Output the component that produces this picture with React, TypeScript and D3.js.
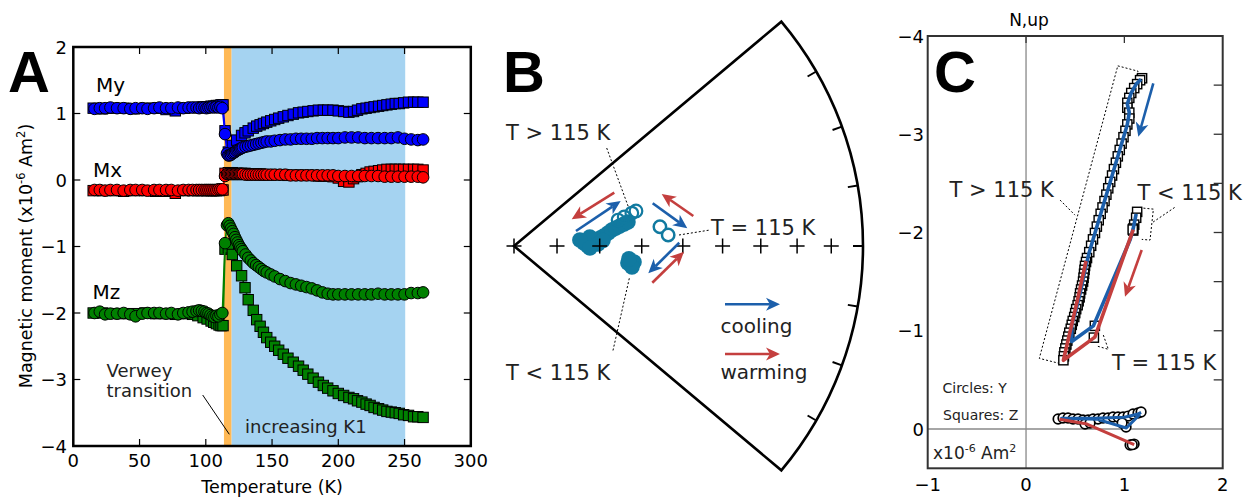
import React from 'react';
import * as d3 from 'd3';

const FONT = '"DejaVu Sans", Verdana, sans-serif';
const BLUE = '#0000ff';
const RED = '#ff0000';
const GREEN = '#008000';
const ARROW_BLUE = '#1c5fab';
const ARROW_RED = '#c43f3e';
const TEAL = '#117aa0';

// ---------------- Panel A data ----------------
const A_X_TICKS = [0, 50, 100, 150, 200, 250, 300];
const A_Y_TICKS = [-4, -3, -2, -1, 0, 1, 2];

const T_CIRC = [16, 20, 24, 28, 33, 38, 43, 47, 52, 56, 61, 65, 70, 74, 79, 83, 87, 90, 93, 95, 97, 99, 100.5, 102, 103.5, 105, 106.5, 108, 109.5, 111, 112.5,
  114.5, 116, 117, 118, 119, 120, 121, 122, 123, 124, 125, 126, 127, 128, 130, 132, 134, 136, 138, 140, 142, 144, 146, 149, 152, 156, 160, 164, 168, 172, 176, 180, 184, 188, 192, 196, 200, 205, 210, 215, 220, 225, 230, 235, 240, 245, 250, 255, 260, 264];
const MY_CIRC = [1.07, 1.08, 1.08, 1.09, 1.08, 1.08, 1.07, 1.08, 1.08, 1.07, 1.08, 1.09, 1.08, 1.08, 1.09, 1.08, 1.09, 1.09, 1.09, 1.08, 1.09, 1.09, 1.08, 1.09, 1.09, 1.10, 1.09, 1.10, 1.09, 1.10, 1.08,
  0.69, 0.40, 0.37, 0.37, 0.38, 0.40, 0.41, 0.42, 0.44, 0.45, 0.46, 0.47, 0.48, 0.49, 0.50, 0.51, 0.52, 0.53, 0.54, 0.55, 0.56, 0.57, 0.58, 0.58, 0.59, 0.60, 0.61, 0.61, 0.62, 0.62, 0.62, 0.62, 0.63, 0.63, 0.63, 0.63, 0.63, 0.64, 0.64, 0.64, 0.63, 0.63, 0.63, 0.63, 0.63, 0.64, 0.62, 0.61, 0.60, 0.61];
const MX_CIRC = [-0.15, -0.15, -0.16, -0.15, -0.15, -0.16, -0.15, -0.15, -0.15, -0.16, -0.15, -0.15, -0.15, -0.15, -0.16, -0.15, -0.15, -0.15, -0.15, -0.15, -0.15, -0.15, -0.15, -0.15, -0.15, -0.15, -0.15, -0.15, -0.14, -0.14, -0.14,
  0.06, 0.09, 0.09, 0.09, 0.09, 0.09, 0.09, 0.09, 0.09, 0.09, 0.09, 0.09, 0.09, 0.09, 0.08, 0.08, 0.08, 0.08, 0.08, 0.08, 0.08, 0.08, 0.08, 0.08, 0.08, 0.08, 0.08, 0.07, 0.07, 0.07, 0.07, 0.07, 0.07, 0.07, 0.07, 0.07, 0.06, 0.06, 0.06, 0.06, 0.06, 0.06, 0.06, 0.05, 0.05, 0.05, 0.05, 0.05, 0.05, 0.04];
const MZ_CIRC = [-2.00, -1.98, -2.02, -2.01, -2.01, -2.00, -2.02, -2.05, -2.01, -2.00, -2.00, -2.00, -2.01, -2.00, -2.02, -2.00, -1.99, -1.98, -1.97, -1.96, -1.97, -1.98, -2.00, -2.01, -2.03, -2.05, -2.06, -2.04, -2.05, -2.02, -2.00,
  -0.95, -0.68, -0.65, -0.69, -0.73, -0.77, -0.81, -0.86, -0.90, -0.94, -0.98, -1.01, -1.04, -1.07, -1.12, -1.17, -1.21, -1.25, -1.28, -1.31, -1.34, -1.37, -1.39, -1.42, -1.45, -1.49, -1.52, -1.55, -1.57, -1.59, -1.61, -1.63, -1.66, -1.69, -1.71, -1.72, -1.72, -1.72, -1.72, -1.72, -1.72, -1.72, -1.71, -1.72, -1.72, -1.72, -1.72, -1.70, -1.70, -1.69];

const T_SQ = [15, 22, 30, 38, 46, 54, 62, 70, 77, 84, 90, 94, 98, 101, 104, 106, 108, 110, 111.5, 113,
  114.5, 117, 120, 123.3, 127, 129.6, 132, 135.8, 138.4, 141, 143.5, 146, 149, 152, 155, 158.5, 162, 166, 170, 173.5, 177, 181, 185, 188.7, 192, 196, 200, 204, 208, 211.5, 214.5, 217.8, 221, 224, 227, 230.4, 233.5, 236.7, 240, 243, 246, 249.3, 253, 256.8, 260, 264];
const MY_SQ = [1.08, 1.07, 1.08, 1.08, 1.07, 1.08, 1.08, 1.06, 1.04, 1.08, 1.09, 1.09, 1.10, 1.10, 1.11, 1.11, 1.12, 1.12, 1.13, 1.13,
  0.74, 0.42, 0.52, 0.60, 0.67, 0.71, 0.74, 0.78, 0.81, 0.83, 0.85, 0.87, 0.89, 0.91, 0.93, 0.95, 0.97, 0.99, 1.01, 1.02, 1.03, 1.04, 1.05, 1.05, 1.05, 1.05, 1.04, 1.03, 1.02, 1.03, 1.05, 1.07, 1.08, 1.09, 1.10, 1.11, 1.12, 1.13, 1.14, 1.15, 1.15, 1.16, 1.17, 1.17, 1.17, 1.17];
const MX_SQ = [-0.16, -0.16, -0.16, -0.17, -0.16, -0.16, -0.17, -0.17, -0.20, -0.16, -0.16, -0.16, -0.16, -0.16, -0.16, -0.16, -0.16, -0.16, -0.15, -0.15,
  0.10, 0.11, 0.11, 0.10, 0.10, 0.10, 0.09, 0.09, 0.09, 0.09, 0.08, 0.08, 0.08, 0.08, 0.08, 0.08, 0.07, 0.07, 0.07, 0.07, 0.07, 0.07, 0.06, 0.06, 0.06, 0.05, 0.03, -0.02, -0.03, 0.02, 0.05, 0.08, 0.10, 0.12, 0.13, 0.14, 0.15, 0.16, 0.16, 0.16, 0.16, 0.16, 0.16, 0.16, 0.16, 0.15];
const MZ_SQ = [-2.00, -2.00, -2.01, -2.01, -2.01, -2.00, -2.01, -2.01, -2.02, -2.01, -2.02, -2.04, -2.07, -2.09, -2.12, -2.14, -2.16, -2.18, -2.19, -2.19,
  -1.04, -1.02, -1.12, -1.29, -1.44, -1.62, -1.80, -1.96, -2.10, -2.20, -2.29, -2.37, -2.44, -2.50, -2.56, -2.62, -2.68, -2.74, -2.80, -2.86, -2.92, -2.98, -3.04, -3.09, -3.13, -3.17, -3.21, -3.24, -3.27, -3.29, -3.32, -3.34, -3.37, -3.39, -3.42, -3.44, -3.46, -3.48, -3.49, -3.50, -3.51, -3.53, -3.54, -3.56, -3.56, -3.57];

const VERWEY_BAND = [113.7, 119.5];
const K1_BAND = [119.5, 250.5];

// ---------------- Panel B data (declination, inclination) ----------------
const B_WEDGE = [50, 130];
const B_ARC_TICKS = [60, 70, 80, 90, 100, 110, 120];
const B_CROSS_INC = [90, 80, 70, 60, 50, 40, 30, 20, 10];
const B_ABOVE_FILLED = [[87.5, 73.7], [90, 72.8], [87.1, 71.8], [85.8, 70.8], [84.7, 69.8], [83.7, 68.9], [82.1, 67.8], [80.7, 66.8], [80.0, 65.8], [79.3, 64.8], [78.7, 63.7], [78.1, 62.7], [83.2, 72.2], [88.6, 70.4], [84.8, 74.6], [91.5, 72.3], [86.5, 69.2]];
const B_ABOVE_OPEN = [[76.0, 64.9], [75.2, 63.3], [74.4, 61.3], [74.0, 60.2]];
const B_BELOW_FILLED = [[98.5, 63.0], [97.6, 61.6], [100.1, 61.9], [96.4, 62.9]];
const B_AT_OPEN = [[82.5, 55.3], [85.9, 53.5]];

// ---------------- Panel C data ----------------
const C_X_TICKS = [-1, 0, 1, 2];
const C_Y_TICKS = [-4, -3, -2, -1, 0];
const C_RIGHT_TICKS = [-3.5, -3, -2.5, -2, -1.5, -1, -0.5];
const C_SQUARES = [
  [1.18, -3.57], [1.16, -3.55], [1.13, -3.51], [1.10, -3.47], [1.07, -3.42], [1.05, -3.37], [1.03, -3.32], [1.03, -3.27], [1.05, -3.22], [1.05, -3.16], [1.03, -3.10],
  [1.011, -3.035], [0.991, -2.97], [0.972, -2.905], [0.953, -2.84], [0.933, -2.775], [0.914, -2.71], [0.894, -2.645], [0.875, -2.58], [0.856, -2.515], [0.836, -2.45], [0.817, -2.385], [0.798, -2.32], [0.778, -2.255], [0.759, -2.19], [0.739, -2.125], [0.72, -2.06], [0.701, -1.995], [0.681, -1.93], [0.662, -1.865], [0.643, -1.80],
  [0.62, -1.74], [0.61, -1.70], [0.60, -1.66], [0.595, -1.62], [0.59, -1.58], [0.585, -1.54], [0.58, -1.50], [0.57, -1.46], [0.56, -1.42], [0.55, -1.38], [0.545, -1.34], [0.535, -1.30], [0.525, -1.26], [0.51, -1.22], [0.50, -1.18], [0.49, -1.14], [0.475, -1.10], [0.465, -1.06], [0.455, -1.02], [0.44, -0.98], [0.43, -0.94], [0.42, -0.90], [0.41, -0.86], [0.40, -0.82], [0.39, -0.78], [0.385, -0.74], [0.38, -0.70],
  [0.70, -1.05], [0.69, -0.93],
  [1.13, -2.21], [1.12, -2.15], [1.10, -2.08], [1.09, -2.04], [1.09, -2.02], [1.085, -2.03]];
const C_CIRCLES = [[0.326, -0.102], [0.376, -0.112], [0.427, -0.112], [0.478, -0.102], [0.529, -0.102], [0.58, -0.092], [0.631, -0.092], [0.682, -0.102], [0.732, -0.102], [0.783, -0.112], [0.834, -0.112], [0.885, -0.122], [0.936, -0.122], [0.987, -0.122], [1.038, -0.132], [1.088, -0.153], [1.139, -0.163], [1.17, -0.173], [1.017, -0.02], [0.977, -0.061], [1.058, 0.163], [1.099, 0.153], [1.08, 0.16], [0.60, -0.051], [0.651, -0.061]];
const C_BLUE_SQ = [[1.17, -3.56], [1.12, -3.51], [1.07, -3.42], [1.03, -3.31], [1.05, -3.22], [1.03, -3.10], [0.643, -1.80], [0.60, -1.62], [0.55, -1.38], [0.50, -1.18], [0.465, -1.06], [0.465, -0.89], [0.685, -1.05], [1.06, -1.93], [1.09, -2.04], [1.12, -2.19]];
const C_RED_SQ = [[1.09, -2.03], [0.70, -0.935], [0.38, -0.70], [0.52, -1.30], [0.61, -1.71]];
const C_BLUE_CI = [[1.17, -0.17], [1.13, -0.15], [1.0, -0.12], [0.70, -0.11], [0.36, -0.11], [0.72, -0.10], [1.02, -0.01], [1.16, -0.15]];
const C_RED_CI = [[1.10, 0.16], [0.62, -0.05], [0.34, -0.10]];

const minus = (v: number) => (v < 0 ? '\u2212' + Math.abs(v) : String(v));

function Arrow({ x1, y1, x2, y2, color, w = 2.6, hl = 14, hw = 6.5 }: any) {
  const dx = x2 - x1, dy = y2 - y1, L = Math.hypot(dx, dy);
  const ux = dx / L, uy = dy / L, nx = -uy, ny = ux;
  const bx = x2 - ux * hl, by = y2 - uy * hl;
  const kx = x2 - ux * hl * 0.72, ky = y2 - uy * hl * 0.72;
  const pts = [[x2, y2], [bx + nx * hw, by + ny * hw], [kx, ky], [bx - nx * hw, by - ny * hw]];
  return (
    <g>
      <line x1={x1} y1={y1} x2={kx} y2={ky} stroke={color} strokeWidth={w} />
      <polygon points={pts.map((p) => p.join(',')).join(' ')} fill={color} />
    </g>
  );
}

function PanelA() {
  const x = d3.scaleLinear().domain([0, 300]).range([73.3, 470.8]);
  const y = d3.scaleLinear().domain([-4, 2]).range([446, 47]);
  const line = d3.line<number[]>().x((d) => x(d[0])).y((d) => y(d[1]));
  const mk = (T: number[], v: number[]) => T.map((t, i) => [t, v[i]]);
  const series = [
    { pts: mk(T_SQ, MY_SQ), c: BLUE, sq: true },
    { pts: mk(T_CIRC, MY_CIRC), c: BLUE, sq: false },
    { pts: mk(T_SQ, MX_SQ), c: RED, sq: true },
    { pts: mk(T_CIRC, MX_CIRC), c: RED, sq: false },
    { pts: mk(T_SQ, MZ_SQ), c: GREEN, sq: true },
    { pts: mk(T_CIRC, MZ_CIRC), c: GREEN, sq: false },
  ];
  const [x0, x1] = x.range();
  const [y0, y1] = y.range();
  const S = 10.4;
  return (
    <g>
      <rect x={x(VERWEY_BAND[0])} y={y1} width={x(VERWEY_BAND[1]) - x(VERWEY_BAND[0])} height={y0 - y1} fill="#ffb955" />
      <rect x={x(K1_BAND[0])} y={y1} width={x(K1_BAND[1]) - x(K1_BAND[0])} height={y0 - y1} fill="#a5d3f1" />
      {series.map((s, i) => (
        <g key={i}>
          <path d={line(s.pts) || ''} fill="none" stroke={s.c} strokeWidth={1.6} />
          {s.pts.map((p, j) =>
            s.sq ? (
              <rect key={j} x={x(p[0]) - S / 2} y={y(p[1]) - S / 2} width={S} height={S} fill={s.c} stroke="#000" strokeWidth={1} />
            ) : (
              <circle key={j} cx={x(p[0])} cy={y(p[1])} r={5.8} fill={s.c} stroke="#000" strokeWidth={1} />
            )
          )}
        </g>
      ))}
      {A_X_TICKS.map((t) => (
        <g key={'xt' + t}>
          <line x1={x(t)} x2={x(t)} y1={y0} y2={y0 - 7} stroke="#000" strokeWidth={1.2} />
          <line x1={x(t)} x2={x(t)} y1={y1} y2={y1 + 7} stroke="#000" strokeWidth={1.2} />
          <text x={x(t)} y={466.5} fontSize={18} textAnchor="middle">{t}</text>
        </g>
      ))}
      {A_Y_TICKS.map((t) => (
        <g key={'yt' + t}>
          <line x1={x0} x2={x0 + 7} y1={y(t)} y2={y(t)} stroke="#000" strokeWidth={1.2} />
          <line x1={x1} x2={x1 - 7} y1={y(t)} y2={y(t)} stroke="#000" strokeWidth={1.2} />
          <text x={67} y={y(t) + 6.5} fontSize={18} textAnchor="end">{minus(t)}</text>
        </g>
      ))}
      <rect x={x0} y={y1} width={x1 - x0} height={y0 - y1} fill="none" stroke="#000" strokeWidth={2.5} />
      <text x={272} y={493} fontSize={17.5} textAnchor="middle">Temperature (K)</text>
      <text transform="translate(31.5,256) rotate(-90)" fontSize={17.5} textAnchor="middle">
        Magnetic moment (x10<tspan dy={-7} fontSize={11.5}>-6</tspan>
        <tspan dy={7}> Am</tspan>
        <tspan dy={-7} fontSize={11.5}>2</tspan>
        <tspan dy={7}>)</tspan>
      </text>
      <text x={96} y={91.5} fontSize={20}>My</text>
      <text x={93} y={176.5} fontSize={20}>Mx</text>
      <text x={92.5} y={299} fontSize={20}>Mz</text>
      <text x={106.5} y={376.5} fontSize={18} fill="#222">Verwey</text>
      <text x={106.5} y={396.5} fontSize={18} fill="#222">transition</text>
      <line x1={202.7} y1={395} x2={229.3} y2={434.3} stroke="#000" strokeWidth={1} />
      <text x={245} y={433} fontSize={18} fill="#222">increasing K1</text>
      <text x={8} y={92} fontSize={58} fontWeight="bold" fontFamily='"Liberation Sans", Arial, sans-serif'>A</text>
    </g>
  );
}

function PanelB() {
  const cx = 514, cy = 246, R = 349;
  const rs = d3.scaleLinear().domain([0, 1]).range([0, R]);
  const proj = (dec: number, inc: number) => {
    const colat = ((90 - inc) * Math.PI) / 180;
    const r = rs(Math.SQRT2 * Math.sin(colat / 2));
    const a = (dec * Math.PI) / 180;
    return [cx + r * Math.sin(a), cy - r * Math.cos(a)];
  };
  const edge = (dec: number, rr: number) => {
    const a = (dec * Math.PI) / 180;
    return [cx + rr * Math.sin(a), cy - rr * Math.cos(a)];
  };
  const p1 = edge(B_WEDGE[0], R), p2 = edge(B_WEDGE[1], R);
  const frame = `M${cx},${cy} L${p1[0]},${p1[1]} A${R},${R} 0 0 1 ${p2[0]},${p2[1]} Z`;
  return (
    <g>
      <path d={frame} fill="none" stroke="#000" strokeWidth={2.6} strokeLinejoin="miter" />
      {B_ARC_TICKS.map((d) => {
        const a = edge(d, R), b = edge(d, R - 10);
        return <line key={d} x1={a[0]} y1={a[1]} x2={b[0]} y2={b[1]} stroke="#000" strokeWidth={2} />;
      })}
      {B_ABOVE_FILLED.map((p, i) => {
        const q = proj(p[0], p[1]);
        return <circle key={'af' + i} cx={q[0]} cy={q[1]} r={7.8} fill={TEAL} />;
      })}
      {B_BELOW_FILLED.map((p, i) => {
        const q = proj(p[0], p[1]);
        return <circle key={'bf' + i} cx={q[0]} cy={q[1]} r={7.8} fill={TEAL} />;
      })}
      {B_ABOVE_OPEN.map((p, i) => {
        const q = proj(p[0], p[1]);
        return <circle key={'ao' + i} cx={q[0]} cy={q[1]} r={6.3} fill="none" stroke={TEAL} strokeWidth={2.2} />;
      })}
      {B_AT_OPEN.map((p, i) => {
        const q = proj(p[0], p[1]);
        return <circle key={'to' + i} cx={q[0]} cy={q[1]} r={6.2} fill="#fff" stroke={TEAL} strokeWidth={2.5} />;
      })}
      {B_CROSS_INC.map((inc) => {
        const q = proj(90, inc);
        return (
          <g key={'c' + inc} stroke="#000" strokeWidth={1.5}>
            <line x1={q[0] - 7.5} x2={q[0] + 7.5} y1={q[1]} y2={q[1]} />
            <line x1={q[0]} x2={q[0]} y1={q[1] - 7.5} y2={q[1] + 7.5} />
          </g>
        );
      })}
      <Arrow x1={614.3} y1={192.7} x2={571.7} y2={219.3} color={ARROW_RED} />
      <Arrow x1={576} y1={231} x2={620.7} y2={201} color={ARROW_BLUE} />
      <Arrow x1={652.7} y1={203.3} x2={687.3} y2={228.3} color={ARROW_BLUE} />
      <Arrow x1={693.3} y1={216} x2={661.7} y2={194} color={ARROW_RED} />
      <Arrow x1={679.3} y1={242.7} x2={648.3} y2={273.3} color={ARROW_BLUE} />
      <Arrow x1={652.3} y1={282.7} x2={684} y2={251.7} color={ARROW_RED} />
      <Arrow x1={725} y1={304.3} x2={780} y2={304.3} color={ARROW_BLUE} />
      <Arrow x1={725} y1={354} x2={780} y2={354} color={ARROW_RED} />
      <g stroke="#000" strokeWidth={1} strokeDasharray="2,2">
        <line x1={606.7} y1={148} x2={628.3} y2={206.7} />
        <line x1={679} y1={235} x2={710} y2={230} />
        <line x1={629.3} y1={278.3} x2={612.7} y2={351.7} />
      </g>
      <text x={506} y={140} fontSize={21} fill="#222">T &gt; 115 K</text>
      <text x={711} y={235} fontSize={21} fill="#222">T = 115 K</text>
      <text x={506} y={380} fontSize={21} fill="#222">T &lt; 115 K</text>
      <text x={720.5} y={333} fontSize={20} fill="#222">cooling</text>
      <text x={720.5} y={379} fontSize={20} fill="#222">warming</text>
      <text x={503} y={92} fontSize={58} fontWeight="bold" fontFamily='"Liberation Sans", Arial, sans-serif'>B</text>
    </g>
  );
}

function PanelC() {
  const x = d3.scaleLinear().domain([-1, 2]).range([927.7, 1222.7]);
  const y = d3.scaleLinear().domain([-4, 0.4]).range([36, 468.3]);
  const line = d3.line<number[]>().x((d) => x(d[0])).y((d) => y(d[1]));
  const [x0, x1] = x.range();
  const [y0, y1] = y.range();
  const S = 9.2;
  const box1 = [[0.933, -3.696], [1.139, -3.642], [0.346, -0.666], [0.135, -0.719]];
  const box2 = [[1.194, -2.248], [1.295, -2.238], [1.261, -1.923], [1.177, -1.930]];
  const box3 = [[0.786, -0.956], [0.837, -0.811], [0.719, -0.845]];
  return (
    <g>
      <line x1={x(0)} x2={x(0)} y1={y0} y2={y1} stroke="#888" strokeWidth={1.3} />
      <line x1={x0} x2={x1} y1={y(0)} y2={y(0)} stroke="#888" strokeWidth={1.3} />
      <g stroke="#000" strokeWidth={1} strokeDasharray="2,2" fill="none">
        <path d={(line(box1) || '') + 'Z'} />
        <path d={line(box2) || ''} />
        <path d={line(box3) || ''} />
        <line x1={x(0.346)} y1={y(-2.33)} x2={x(0.498)} y2={y(-2.177)} />
        <line x1={x(1.292)} y1={y(-2.106)} x2={x(1.516)} y2={y(-2.258)} />
      </g>
      {C_SQUARES.map((p, i) => (
        <rect key={'s' + i} x={x(p[0]) - S / 2} y={y(p[1]) - S / 2} width={S} height={S} fill="#fff" stroke="#000" strokeWidth={1.4} />
      ))}
      {C_CIRCLES.map((p, i) => (
        <circle key={'c' + i} cx={x(p[0])} cy={y(p[1])} r={4.8} fill="#fff" stroke="#000" strokeWidth={1.7} />
      ))}
      <path d={line(C_BLUE_SQ) || ''} fill="none" stroke={ARROW_BLUE} strokeWidth={3.6} strokeLinejoin="round" />
      <path d={line(C_RED_SQ) || ''} fill="none" stroke={ARROW_RED} strokeWidth={3.6} strokeLinejoin="round" />
      <path d={line(C_BLUE_CI) || ''} fill="none" stroke={ARROW_BLUE} strokeWidth={3} strokeLinejoin="round" />
      <path d={line(C_RED_CI) || ''} fill="none" stroke={ARROW_RED} strokeWidth={3} strokeLinejoin="round" />
      <Arrow x1={1153.3} y1={83.3} x2={1138.3} y2={136.7} color={ARROW_BLUE} w={2.6} />
      <Arrow x1={1141.7} y1={250} x2={1125} y2={296.7} color={ARROW_RED} w={2.6} />
      {C_RIGHT_TICKS.map((t) => (
        <line key={'r' + t} x1={x1} x2={x1 - 9} y1={y(t)} y2={y(t)} stroke="#333" strokeWidth={1.3} />
      ))}
      {C_X_TICKS.filter((t) => t > -1 && t < 2).map((t) => (
        <line key={'tt' + t} x1={x(t)} x2={x(t)} y1={y0} y2={y0 + 7} stroke="#333" strokeWidth={1.3} />
      ))}
      <rect x={x0} y={y0} width={x1 - x0} height={y1 - y0} fill="none" stroke="#333" strokeWidth={2} />
      {C_X_TICKS.map((t) => (
        <text key={'xl' + t} x={x(t)} y={491} fontSize={18} textAnchor="middle">{minus(t)}</text>
      ))}
      {C_Y_TICKS.map((t) => (
        <text key={'yl' + t} x={924} y={y(t) + 6.5} fontSize={18} textAnchor="end">{minus(t)}</text>
      ))}
      <text x={1029} y={26} fontSize={17} textAnchor="middle">N,up</text>
      <text x={949.5} y={196.5} fontSize={21} fill="#222">T &gt; 115 K</text>
      <text x={1137.5} y={200} fontSize={21} fill="#222">T &lt; 115 K</text>
      <text x={1112} y={370} fontSize={21} fill="#222">T = 115 K</text>
      <text x={942.5} y={393} fontSize={14} fill="#222">Circles: Y</text>
      <text x={943} y={420} fontSize={14} fill="#222">Squares: Z</text>
      <text x={933} y={459} fontSize={17} fill="#222">
        x10<tspan dy={-7} fontSize={11}>-6</tspan>
        <tspan dy={7}> Am</tspan>
        <tspan dy={-7} fontSize={11}>2</tspan>
      </text>
      <text x={934} y={92} fontSize={58} fontWeight="bold" fontFamily='"Liberation Sans", Arial, sans-serif'>C</text>
    </g>
  );
}

export default function App() {
  return (
    <svg width={1250} height={498} style={{ position: 'absolute', left: 0, top: 0, background: '#fff' }} fontFamily={FONT}>
      <rect width={1250} height={498} fill="#fff" />
      <PanelA />
      <PanelB />
      <PanelC />
    </svg>
  );
}
